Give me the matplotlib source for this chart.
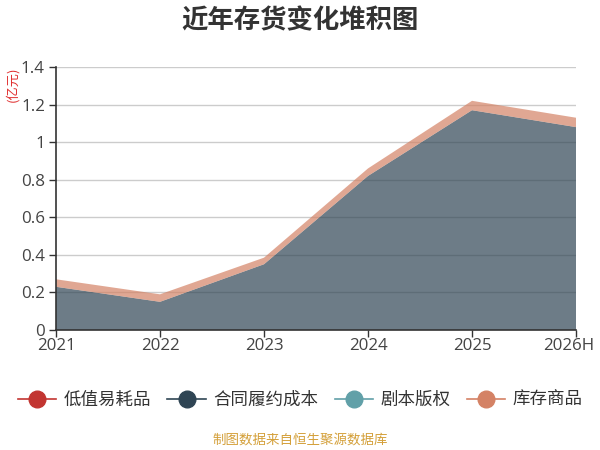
import matplotlib
matplotlib.use("Agg")
import matplotlib.pyplot as plt
from matplotlib.lines import Line2D
import matplotlib.transforms as mtransforms
import numpy as np

plt.rcParams['font.family'] = ['Noto Sans CJK SC', 'DejaVu Sans']

years = ["2021", "2022", "2023", "2024", "2025", "2026H"]
series_names = ["低值易耗品", "合同履约成本", "剧本版权", "库存商品"]
low_value = [0.0, 0.0, 0.0, 0.0, 0.0, 0.0]
contract_cost = [0.23, 0.15, 0.35, 0.82, 1.17, 1.08]
script_rights = [0.0, 0.0, 0.0, 0.0, 0.0, 0.0]
inventory_goods = [0.04, 0.04, 0.035, 0.04, 0.05, 0.05]
colors = ["#c23531", "#2f4554", "#61a0a8", "#d48265"]
yticks = [0, 0.2, 0.4, 0.6, 0.8, 1, 1.2, 1.4]
ytick_labels = ["0", "0.2", "0.4", "0.6", "0.8", "1", "1.2", "1.4"]

fig = plt.figure(figsize=(6, 4.5), dpi=100)
ax = fig.add_axes([56/600, 1-330/450, 520/600, 263/450])

x = np.arange(len(years))
data = [low_value, contract_cost, script_rights, inventory_goods]
ax.stackplot(x, *data, colors=colors, alpha=0.7, linewidth=0, zorder=2)

ax.set_xlim(0, len(years)-1)
ax.set_ylim(0, 1.4)
ax.set_yticks(yticks)
ax.set_yticklabels(ytick_labels, family=['Open Sans', 'DejaVu Sans'])
ax.set_xticks(x)
ax.set_xticklabels(years, family=['Open Sans', 'DejaVu Sans'])
ax.grid(axis='y', color='#cccccc', linewidth=1, zorder=1)
ax.set_axisbelow(True)
for s in ['top', 'right']:
    ax.spines[s].set_visible(False)
for s in ['left', 'bottom']:
    ax.spines[s].set_color('#333333')
    ax.spines[s].set_linewidth(1.2)
ax.tick_params(axis='both', colors='#333333', labelcolor='#444444', labelsize=12.2, length=5, width=1)
ax.tick_params(axis='y', pad=3)
ax.tick_params(axis='x', pad=1)

last = ax.get_xticklabels()[-1]
last.set_transform(last.get_transform() + mtransforms.ScaledTranslation(-7/100, 0, fig.dpi_scale_trans))

fig.text(0.5, 1-21/450, "近年存货变化堆积图", ha='center', va='center', fontsize=19, fontweight='bold', color='#333333')
fig.text(12/600, 1-84/450, "(亿元)", ha='center', va='center', rotation=90, fontsize=9.5, color='#e03030')

handles = [Line2D([0], [0], color=c, marker='o', markersize=12, linewidth=1.2) for c in colors]
fig.legend(handles, series_names, loc='center', bbox_to_anchor=(0.5, 1-400/450), ncol=4, frameon=False,
           fontsize=12.6, handlelength=2.2, columnspacing=0.95, handletextpad=0.4,
           labelcolor='#333333', borderpad=0, borderaxespad=0)

fig.text(0.5, 1-440/450, "制图数据来自恒生聚源数据库", ha='center', va='center', fontsize=9.7, color='#d4a03a')

fig.savefig("out.png", dpi=100)
